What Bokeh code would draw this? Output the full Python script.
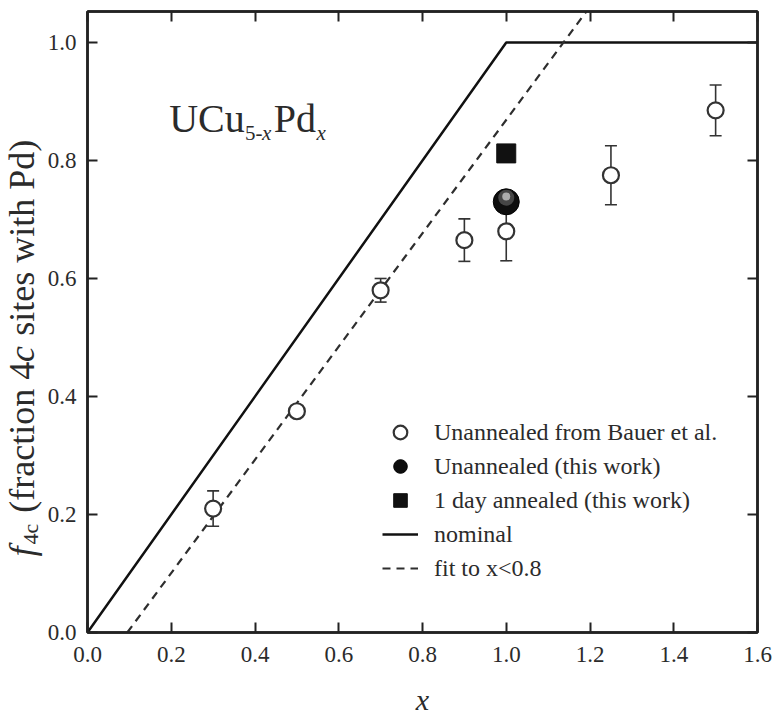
from math import pi

from bokeh.core.properties import value
from bokeh.embed import file_html
from bokeh.layouts import row
from bokeh.models import (ColumnDataSource, CustomJSTickFormatter, Label,
                          Legend, LegendItem, LinearAxis, PrintfTickFormatter,
                          Range1d, TeeHead, Whisker)
from bokeh.plotting import figure
from bokeh.resources import INLINE
from bokeh.transform import dodge

# ---- data -------------------------------------------------------------
# Unannealed samples from Bauer et al.: Pd content x, 4c-site fraction, error
bauer_x = [0.3, 0.5, 0.7, 0.9, 1.0, 1.25, 1.5]
bauer_f = [0.21, 0.375, 0.58, 0.665, 0.68, 0.775, 0.885]
bauer_err = [0.03, 0.008, 0.02, 0.036, 0.05, 0.05, 0.043]

# Samples measured in this work
unannealed_x = [1.0]
unannealed_f = [0.73]
annealed_x = [1.0]
annealed_f = [0.812]

# Nominal occupation: all Pd on 4c sites until they are full
nominal_x = [0.0, 1.0, 1.6]
nominal_f = [0.0, 1.0, 1.0]

# Linear fit to the points with x < 0.8
fit_slope = 0.96
fit_x0 = 0.095
fit_x = [fit_x0, 1.25]
fit_f = [fit_slope * (xv - fit_x0) for xv in fit_x]

x_ticks = [0.0, 0.2, 0.4, 0.6, 0.8, 1.0, 1.2, 1.4, 1.6]
y_ticks = [0.0, 0.2, 0.4, 0.6, 0.8, 1.0]

# ---- styling ----------------------------------------------------------
SERIF = "Liberation Serif"
INK = "#222222"
TEXT = "#2b2b2b"
W, H = 775, 718
LABEL_W = 44          # strip that carries the rotated y-axis title
BORDER_TOP, BORDER_BOTTOM = 11, 85

y_range = Range1d(0.0, 1.0525)

p = figure(
    width=W - LABEL_W, height=H,
    x_range=Range1d(0.0, 1.6), y_range=y_range,
    output_backend="svg", toolbar_location=None,
    min_border_left=85 - LABEL_W, min_border_right=18,
    min_border_top=BORDER_TOP, min_border_bottom=BORDER_BOTTOM,
    background_fill_color="white", border_fill_color="white",
)
p.xgrid.visible = False
p.ygrid.visible = False
p.outline_line_color = INK
p.outline_line_width = 2.5


def style_axis(ax, ticks, show_labels=True):
    ax.ticker = ticks
    ax.ticker.num_minor_ticks = 2
    ax.axis_line_color = INK
    ax.axis_line_width = 2.5
    ax.major_tick_in = 10
    ax.major_tick_out = 0
    ax.minor_tick_in = 5
    ax.minor_tick_out = 0
    ax.major_tick_line_color = INK
    ax.major_tick_line_width = 2
    ax.minor_tick_line_color = INK
    ax.minor_tick_line_width = 2
    ax.major_label_text_font = SERIF
    ax.major_label_text_color = TEXT
    ax.major_label_text_font_size = "23px"
    if show_labels:
        ax.formatter = PrintfTickFormatter(format="%.1f")
    else:
        ax.formatter = CustomJSTickFormatter(code="return ''")
        ax.major_label_standoff = 0


style_axis(p.xaxis[0], x_ticks)
style_axis(p.yaxis[0], y_ticks)
p.xaxis[0].major_label_standoff = 14
p.yaxis[0].major_label_standoff = 11
p.xaxis[0].axis_label = "x"
p.xaxis[0].axis_label_text_font = SERIF
p.xaxis[0].axis_label_text_font_style = "italic"
p.xaxis[0].axis_label_text_font_size = "30px"
p.xaxis[0].axis_label_text_color = TEXT
p.xaxis[0].axis_label_standoff = 18

# mirrored axes on top and right, ticks only
top_axis = LinearAxis()
right_axis = LinearAxis()
style_axis(top_axis, x_ticks, show_labels=False)
style_axis(right_axis, y_ticks, show_labels=False)
p.add_layout(top_axis, "above")
p.add_layout(right_axis, "right")

# ---- lines ------------------------------------------------------------
r_nominal = p.line(nominal_x, nominal_f, line_color="#111111", line_width=2.5)
r_fit = p.line(fit_x, fit_f, line_color="#2e2e2e", line_width=2.2,
               line_dash="8 6")

# ---- Bauer et al. points with error bars ------------------------------
bauer_src = ColumnDataSource(dict(
    x=bauer_x, f=bauer_f,
    lower=[fv - e for fv, e in zip(bauer_f, bauer_err)],
    upper=[fv + e for fv, e in zip(bauer_f, bauer_err)],
))
p.add_layout(Whisker(
    source=bauer_src, base="x", lower="lower", upper="upper",
    dimension="height", line_color="#333333", line_width=1.6,
    lower_head=TeeHead(size=12, line_color="#333333", line_width=1.6),
    upper_head=TeeHead(size=12, line_color="#333333", line_width=1.6),
))
r_bauer = p.scatter("x", "f", source=bauer_src, marker="circle", size=16,
                    fill_color="white", line_color="#333333", line_width=2.2)

# ---- this work: shaded ball and filled square -------------------------
ball_src = ColumnDataSource(dict(x=unannealed_x, f=unannealed_f))
r_ball = p.scatter("x", "f", source=ball_src, marker="circle", size=26,
                   fill_color="#0d0d0d", line_color="#000000", line_width=1)
# soft highlight on the upper part of the ball
p.scatter("x", dodge("f", 0.007, range=p.y_range), source=ball_src,
          marker="circle", size=16, fill_color="#8a8a8a", fill_alpha=0.45,
          line_alpha=0)
p.scatter("x", dodge("f", 0.009, range=p.y_range), source=ball_src,
          marker="circle", size=8, fill_color="#d8d8d8", fill_alpha=0.7,
          line_alpha=0)

r_square = p.scatter(annealed_x, annealed_f, marker="square", size=19,
                     fill_color="#111111", line_color="#111111")

# ---- legend -----------------------------------------------------------
legend = Legend(
    items=[
        LegendItem(label="Unannealed from Bauer et al.", renderers=[r_bauer]),
        LegendItem(label="Unannealed (this work)", renderers=[r_ball]),
        LegendItem(label="1 day annealed (this work)", renderers=[r_square]),
        LegendItem(label="nominal", renderers=[r_nominal]),
        LegendItem(label="fit to x<0.8", renderers=[r_fit]),
    ],
    location=(295, 47),
    glyph_width=36, glyph_height=34, label_height=34,
    label_standoff=16, spacing=0, padding=0, margin=0,
    border_line_alpha=0, background_fill_alpha=0,
    label_text_font=SERIF, label_text_font_size="24px",
    label_text_color=TEXT,
)
p.add_layout(legend)


# ---- compound name ----------------------------------------------------
def put(text, x, y, size, style="normal"):
    p.add_layout(Label(
        x=x, y=y, text=text,
        text_font=SERIF, text_font_size=size, text_font_style=style,
        text_color=TEXT, text_align="left", text_baseline="alphabetic",
    ))


put("UCu", 0.195, 0.871, "40px")
put("5-", 0.376, 0.846, "21px")
put("x", 0.417, 0.846, "21px", "italic")
put("Pd", 0.445, 0.871, "40px")
put("x", 0.547, 0.846, "21px", "italic")

# ---- rotated y-axis title: f_4c (fraction 4c sites with Pd) ----------
# a narrow strip sharing the y range, so its frame lines up with the plot
ylab = figure(
    width=LABEL_W, height=H,
    x_range=Range1d(0, LABEL_W), y_range=y_range,
    output_backend="svg", toolbar_location=None,
    min_border_left=0, min_border_right=0,
    min_border_top=BORDER_TOP, min_border_bottom=BORDER_BOTTOM,
    background_fill_color="white", border_fill_color="white",
)
ylab.axis.visible = False
ylab.grid.visible = False
ylab.outline_line_alpha = 0

# pieces of the title, bottom to top; x is the centre line of each piece
# in strip pixels, y is where each piece starts, on the fraction scale
title_text = ["f", "4c", "(fraction 4", "c", "sites with Pd)"]
title_mid = [21, 30, 21, 21, 21]
title_start = [0.129, 0.149, 0.203, 0.4585, 0.503]
title_size = ["36px", "22px", "36px", "36px", "36px"]
title_style = ["italic", "normal", "normal", "italic", "normal"]
ylab.text(
    x=title_mid, y=title_start, text=title_text, angle=pi / 2,
    text_font=value(SERIF), text_font_size=title_size,
    text_font_style=title_style, text_color=TEXT,
    text_align="left", text_baseline="middle",
)

layout = row(ylab, p, spacing=0)
open("out.html", "w").write(file_html(layout, INLINE))
